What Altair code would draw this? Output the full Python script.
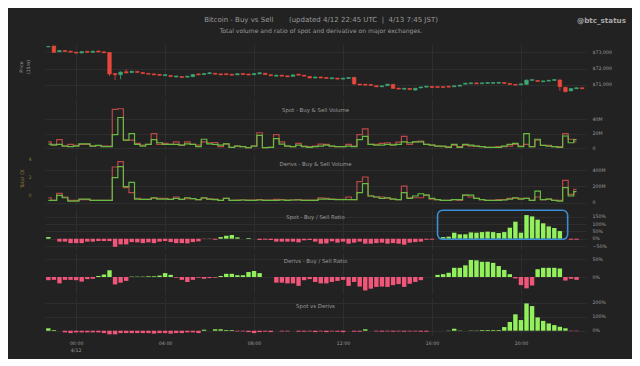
import altair as alt
import pandas as pd

FONT = "DejaVu Sans"
BG = "#222222"
GRID = "#2e2e2e"
TXT = "#9a9a9a"
RED_C, GRN_C = "#e8483c", "#3fa877"
RED_L, GRN_L = "#b84848", "#68bb40"
RED_B, GRN_B = "#f0567a", "#92f05c"
OI_C = "#8a7434"
BOX = "#3a8ed4"

W = 541
H1, H2, H3, H4, H5, H6 = 52, 50, 50, 41, 40, 37

# ---------------- data ----------------
base_t = pd.Timestamp("2024-04-11 22:45", tz="UTC")
times = [int((base_t + pd.Timedelta(minutes=15 * i)).value // 10**6) for i in range(97)]


def ms(s):
    return int(pd.Timestamp(s).value // 10**6)


X_DOM = [ms("2024-04-11T22:36:00Z"), ms("2024-04-12T22:55:30Z")]
tick_times = [ms(f"2024-04-12T{h:02d}:00:00Z") for h in (0, 4, 8, 12, 16, 20)]
date_label = {"t": ms("2024-04-12T00:00:00Z"), "txt": "4/12"}

price_open = [73330, 73385, 73030, 73110, 73070, 73010, 72960, 73060, 73000, 73080, 73030, 72990, 71700, 71630, 71810, 71760, 71830, 71760, 71710, 71680, 71650, 71570, 71580, 71490, 71520, 71480, 71510, 71680, 71640, 71690, 71720, 71680,
              71690, 71660, 71620, 71700, 71670, 71630, 71680, 71720, 71630, 71540, 71600, 71560, 71530, 71660, 71600, 71520, 71430, 71490, 71460, 71380, 71420, 71360, 71400, 71470, 71060, 71050, 71030, 70960, 70890, 70960, 71040, 70810,
              70740, 70790, 70690, 70820, 70870, 70910, 70900, 70900, 70920, 70890, 70930, 71050, 71080, 71130, 71080, 71100, 71100, 71110, 71150, 71090, 71040, 71010, 71040, 71280, 71280, 71200, 71240, 71280, 71310, 70860, 70650, 70770, 70830]
price_close = [73350, 73000, 73110, 73050, 73010, 72950, 73040, 73000, 73070, 73020, 72970, 71670, 71630, 71790, 71740, 71840, 71770, 71700, 71660, 71620, 71590, 71630, 71520, 71550, 71460, 71540, 71640, 71620, 71700, 71750, 71660, 71620,
               71630, 71600, 71690, 71640, 71610, 71700, 71750, 71640, 71570, 71600, 71540, 71500, 71620, 71600, 71540, 71430, 71490, 71430, 71400, 71440, 71360, 71420, 71460, 71060, 71000, 70990, 70970, 70890, 70950, 71050, 70790, 70750,
               70800, 70720, 70800, 70880, 70930, 70850, 70850, 70850, 70870, 70950, 70990, 71110, 71130, 71070, 71130, 71150, 71150, 71160, 71090, 71030, 70990, 71070, 71300, 71330, 71220, 71250, 71290, 71330, 70900, 70590, 70780, 70830, 70770]
price_high = [73360, 73400, 73130, 73120, 73080, 73020, 73060, 73070, 73080, 73090, 73040, 73010, 71720, 71830, 71960, 71860, 71840, 71770, 71720, 71690, 71660, 71650, 71590, 71570, 71530, 71560, 71660, 71690, 71720, 71770, 71730, 71690,
              71700, 71670, 71710, 71710, 71680, 71720, 71770, 71730, 71640, 71620, 71610, 71570, 71640, 71680, 71610, 71530, 71510, 71500, 71470, 71450, 71430, 71430, 71480, 71490, 71070, 71060, 71040, 70970, 70960, 71070, 71060, 70820,
              70810, 70800, 70810, 70890, 70940, 70920, 70910, 70910, 70930, 70960, 71000, 71120, 71140, 71140, 71140, 71160, 71160, 71170, 71160, 71100, 71050, 71080, 71330, 71350, 71290, 71260, 71300, 71340, 71330, 70880, 70790, 70840, 70840]
price_low = [73320, 72960, 73020, 73040, 73000, 72940, 72950, 72990, 72990, 73010, 72960, 71550, 71310, 71350, 71720, 71740, 71760, 71690, 71650, 71610, 71580, 71560, 71510, 71480, 71450, 71470, 71500, 71610, 71630, 71680, 71650, 71610,
             71620, 71590, 71610, 71630, 71600, 71620, 71670, 71630, 71560, 71530, 71530, 71490, 71520, 71590, 71530, 71420, 71420, 71420, 71390, 71370, 71350, 71350, 71390, 71030, 70990, 70980, 70960, 70880, 70880, 70950, 70770, 70740,
             70730, 70710, 70660, 70810, 70860, 70840, 70840, 70840, 70860, 70880, 70920, 71040, 71070, 71060, 71070, 71090, 71090, 71100, 71080, 71020, 70980, 71000, 71020, 71270, 71210, 71190, 71230, 71270, 70640, 70560, 70600, 70760, 70760]

# volumes (millions USD), one value per 15 minutes
spot_sell = [8.9, 5.3, 12.0, 3.1, 5.3, 4.0, 5.3, 5.3, 3.1, 3.6, 3.1, 3.1, 53.3, 54.2, 11.1, 11.1, 6.7, 4.4, 5.3, 20.0, 5.3, 6.7, 5.3, 8.9, 4.4, 8.9, 5.3, 4.4, 8.9, 7.6, 8.0, 2.2, 6.2,
             1.3, 3.1, 2.2, 0.9, 3.1, 21.3, 0.9, 1.3, 18.7, 8.9, 3.1, 2.2, 6.7, 3.1, 2.2, 3.1, 5.8, 5.3, 3.1, 2.2, 2.2, 5.3, 3.1, 18.7, 26.7, 5.3, 5.3, 6.7, 7.6, 5.3, 8.4, 16.4,
             5.3, 8.9, 9.8, 5.3, 4.4, 3.1, 2.2, 2.2, 4.4, 2.2, 4.4, 3.1, 3.1, 2.2, 1.3, 1.3, 2.2, 2.2, 3.1, 5.3, 3.1, 5.3, 2.2, 11.1, 4.0, 4.0, 2.2, 2.2, 20.0, 12.4, 9.0]
spot_buy = [5.8, 4.4, 5.3, 3.1, 2.2, 3.1, 6.2, 6.2, 3.1, 4.0, 2.2, 2.2, 18.7, 42.2, 11.1, 20.0, 5.3, 3.1, 5.3, 12.0, 7.6, 5.3, 5.3, 5.3, 4.4, 6.2, 5.3, 2.2, 12.4, 6.2, 5.3, 4.4, 6.2,
            1.3, 3.1, 2.2, 0.9, 3.1, 17.8, 0.9, 1.3, 13.3, 5.8, 3.1, 2.2, 4.4, 2.2, 1.3, 2.2, 3.1, 4.4, 3.1, 2.2, 2.2, 3.1, 2.2, 12.0, 16.4, 5.3, 4.4, 4.4, 5.3, 4.4, 5.3, 8.9,
            7.6, 8.9, 8.9, 5.3, 4.4, 3.1, 3.1, 1.3, 5.3, 1.3, 5.3, 4.4, 3.1, 2.2, 1.3, 1.3, 1.3, 3.1, 5.3, 6.7, 2.2, 20.0, 2.2, 12.4, 4.0, 3.1, 2.2, 1.3, 16.9, 7.6, 12.0]
deriv_sell = [61, 29, 115, 70, 29, 29, 37, 37, 29, 29, 29, 29, 438, 503, 184, 123, 53, 41, 41, 53, 53, 53, 41, 70, 41, 49, 49, 37, 53, 45, 45, 29, 53,
              29, 33, 33, 33, 33, 37, 33, 33, 41, 37, 33, 33, 37, 33, 33, 33, 61, 53, 45, 41, 41, 70, 37, 258, 315, 82, 70, 70, 53, 45, 37, 204,
              61, 61, 61, 94, 45, 37, 29, 29, 37, 29, 94, 70, 53, 37, 29, 29, 37, 37, 53, 53, 53, 53, 29, 70, 37, 45, 29, 29, 274, 102, 164]
deriv_buy = [29, 29, 90, 61, 20, 20, 45, 45, 29, 29, 29, 29, 307, 442, 196, 249, 45, 41, 41, 61, 45, 45, 41, 53, 41, 61, 49, 37, 61, 45, 37, 29, 53,
             29, 29, 33, 29, 29, 33, 29, 29, 29, 33, 29, 33, 33, 29, 29, 29, 45, 45, 41, 37, 37, 37, 37, 123, 233, 82, 70, 53, 61, 45, 37, 123,
             53, 82, 110, 94, 53, 37, 29, 29, 37, 37, 94, 94, 53, 37, 29, 29, 29, 33, 45, 61, 45, 53, 29, 143, 37, 45, 29, 20, 184, 82, 135]

# ratios (%)
spot_ratio = [11, 0, -20, -20, -30, -30, -30, -20, -20, -16, -16, -16, -55, -39, -39, -23, -25, -30, -25, -30, -20, -16, -23, -30, -30, -32, -23, -18, -2, -2, -7, 11, 20,
              25, 9, 0, 5, 0, -9, -7, -9, -20, -20, -20, -20, -25, -11, -9, -20, -34, -32, -18, -27, -20, -34, -27, -20, -34, -34, -30, -27, -34, -30, -34,
              -41, -27, -23, -20, -7, -7, 0, 11, 14, 41, 30, 30, 43, 41, 45, 48, 45, 39, 45, 75, 116, 41, 161, 152, 130, 105, 84, 73, 52, -2, -7, -7]
deriv_ratio = [-9, -8, -18, -8, -8, -9, -13, -6, -5, 3, 7, 19, -21, -16, -11, 1, 1, 1, 2, 2, 4, 11, 6, -2, -8, -14, -8, -2, -5, -3, -2, 3, 9,
               9, 5, 5, 14, 17, 11, 0, 0, -16, -16, -18, -18, -25, -9, -6, -14, -18, -18, -14, -11, -8, -25, -14, -27, -38, -33, -28, -27, -28, -23, -20,
               -28, -19, -14, -9, 0, 0, 6, 8, 12, 26, 26, 33, 48, 47, 43, 43, 40, 31, 20, 8, -4, -23, -32, -24, 22, 26, 26, 26, 24, -10, -5, -8]
spot_vs_deriv = [17, 5, 0, -12, -17, -12, -12, -12, -12, -12, -17, -26, -26, -17, -17, -17, -17, -17, -17, -21, -17, -17, -21, -17, -17, -12, -12, -17, 7, 0, 10, 10, 5,
                 5, -5, -5, -10, -17, -10, -7, -10, 0, -5, -5, 0, -7, -7, -5, -10, -5, -10, -5, -7, -10, 0, -7, -7, 10, 0, -5, -7, -5, -7,
                 -5, -7, -5, -5, -7, -7, 0, 0, 0, 2, 14, 2, 0, 2, 2, 5, 5, 5, 5, 26, 62, 117, 76, 195, 176, 95, 70, 52, 40, 28, 17, -3, -3]

oi_ticks = [0, 2, 4]
box = {"x1": ms("2024-04-12T16:15:00Z"), "x2": ms("2024-04-12T22:06:00Z"), "y1": -4, "y2": 194}

candles = pd.DataFrame({"t": times, "o": price_open, "h": price_high, "l": price_low, "c": price_close})
vols = pd.DataFrame({"t": times[:96], "ss": spot_sell, "sb": spot_buy, "ds": deriv_sell, "db": deriv_buy})
ratios = pd.DataFrame({"t": times[:96], "sr": spot_ratio, "dr": deriv_ratio, "sd": spot_vs_deriv})

# ---------------- helpers ----------------
XSCALE = alt.Scale(type="utc", domain=X_DOM, padding=0)
LEFT_EXTENT = -30


def x_axis(bottom=False):
    if bottom:
        return alt.Axis(grid=True, gridColor=GRID, ticks=False, domain=False, title=None, values=tick_times,
                        labelColor=TXT, labelFontSize=4.7, labelPadding=5, labelFont=FONT, labelOverlap=False,
                        labelExpr="utcFormat(datum.value, '%H:%M')")
    return alt.Axis(grid=True, gridColor=GRID, ticks=False, domain=False, labels=False, title=None, values=tick_times)


def x_enc(field="t", bottom=False):
    return alt.X(f"{field}:T", scale=XSCALE, axis=x_axis(bottom))


def y_axis(values, expr):
    return alt.Axis(orient="right", values=values, labelExpr=expr, labelColor=TXT, labelFontSize=4.7,
                    labelFont=FONT, labelPadding=6, ticks=False, domain=False, grid=True, gridColor=GRID,
                    title=None, labelOverlap=False, labelBound=False, labelFlush=False)


def text_layer(text, x, y, size, color=TXT, weight="normal", align="center", angle=0):
    kw = dict(color=color, fontSize=size, font=FONT, fontWeight=weight, align=align, baseline="middle", lineBreak="\n")
    if angle:
        kw["angle"] = angle
    return alt.Chart(alt.Data(values=[{"txt": text}])).mark_text(**kw).encode(
        text="txt:N", x=alt.value(x), y=alt.value(y))


def anchor(h):
    return alt.Chart(alt.Data(values=[{"a": 0}])).mark_rule(opacity=0).encode(
        x=alt.value(LEFT_EXTENT), y=alt.value(0), y2=alt.value(h))


PCT = "format(datum.value, 'd') + '%'"
MEG = "datum.value == 0 ? '0' : datum.value + 'M'"

# ---------------- panel 1: price ----------------
pscale = alt.Scale(domain=[70327, 73508])
p_axis = y_axis([71000, 72000, 73000], "'$' + format(datum.value, ',')")
cond_c = alt.condition("datum.c >= datum.o", alt.value(GRN_C), alt.value(RED_C))
cb = alt.Chart(candles).encode(x=x_enc())
wick = cb.mark_rule(strokeWidth=0.8).encode(
    y=alt.Y("l:Q", scale=pscale, axis=p_axis), y2="h:Q", color=cond_c)
body = cb.mark_bar(size=3.6, strokeWidth=0.6).encode(
    y=alt.Y("o:Q", scale=pscale, axis=p_axis), y2="c:Q", color=cond_c, stroke=cond_c)

t1 = "Bitcoin - Buy vs Sell" + "\u00a0" * 7 + "(updated 4/12 22:45 UTC\u00a0 |\u00a0 4/13 7:45 JST)"
t2 = "Total volume and ratio of spot and derivative on major exchanges."
p1 = alt.layer(
    wick, body,
    text_layer(t1, 276, -24, 7),
    text_layer(t2, 276, -13, 6.1),
    text_layer("@btc_status", 581, -23, 7.2, color="#a8a8a8", weight="bold", align="right"),
    text_layer("Price\n(15m)", -23, 23, 4.7, angle=270),
    anchor(H1),
).properties(width=W, height=H1)

# ---------------- panel 2: spot volume ----------------
sv_scale = alt.Scale(domain=[-2.3, 66.2])
sv_axis = y_axis([0, 20, 40], MEG)
vb = alt.Chart(vols).encode(x=x_enc())
p2 = alt.layer(
    vb.mark_line(interpolate="step", color=RED_L, strokeWidth=1.2).encode(
        y=alt.Y("ss:Q", scale=sv_scale, axis=sv_axis)),
    vb.mark_line(interpolate="step", color=GRN_L, strokeWidth=1.2).encode(
        y=alt.Y("sb:Q", scale=sv_scale, axis=sv_axis)),
    text_layer("Spot - Buy & Sell Volume", W / 2, 9.5, 5.4),
    anchor(H2),
).properties(width=W, height=H2)

# ---------------- panel 3: derivs volume ----------------
dv_scale = alt.Scale(domain=[-28.2, 585])
dv_axis = y_axis([0, 200, 400], MEG)
dv_lines = alt.layer(
    vb.mark_line(interpolate="step", color=RED_L, strokeWidth=1.2).encode(
        y=alt.Y("ds:Q", scale=dv_scale, axis=dv_axis)),
    vb.mark_line(interpolate="step", color=GRN_L, strokeWidth=1.2).encode(
        y=alt.Y("db:Q", scale=dv_scale, axis=dv_axis)),
)
oi_layer = alt.Chart(pd.DataFrame({"v": oi_ticks})).mark_point(opacity=0).encode(
    x=alt.value(0),
    y=alt.Y("v:Q", scale=alt.Scale(domain=[-1.12, 4.49]),
            axis=alt.Axis(orient="left", values=oi_ticks, labelColor=OI_C, labelFontSize=4.7, labelFont=FONT,
                          labelPadding=14, ticks=False, domain=False, grid=False, title=None,
                          labelOverlap=False, labelBound=False, labelFlush=False)))
p3 = alt.layer(
    dv_lines, oi_layer,
    text_layer("Derivs - Buy & Sell Volume", W / 2, 8.7, 5.4),
    text_layer("Total OI", -23, 24, 5, color=OI_C, angle=270),
    anchor(H3),
).resolve_scale(y="independent").properties(width=W, height=H3)


# ---------------- ratio panels ----------------
def ratio_bars(field, scale, axis, bottom=False):
    return alt.Chart(ratios).transform_calculate(zero="0").mark_bar(size=4.4).encode(
        x=x_enc(bottom=bottom),
        y=alt.Y(f"{field}:Q", scale=scale, axis=axis),
        y2="zero:Q",
        color=alt.condition(f"datum.{field} >= 0", alt.value(GRN_B), alt.value(RED_B)))


sr_scale = alt.Scale(domain=[-77, 202.5])
sr_axis = y_axis([-50, 0, 50, 100, 150], PCT)
box_layer = alt.Chart(alt.Data(values=[box])).mark_rect(
    fillOpacity=0, stroke=BOX, strokeWidth=1.6, cornerRadius=5).encode(
    x=x_enc("x1"), x2="x2:T", y=alt.Y("y1:Q", scale=sr_scale, axis=sr_axis), y2="y2:Q")
p4 = alt.layer(
    ratio_bars("sr", sr_scale, sr_axis),
    box_layer,
    text_layer("Spot - Buy / Sell Ratio", W / 2, 7.5, 5.4),
    anchor(H4),
).properties(width=W, height=H4)

dr_scale = alt.Scale(domain=[-48, 65])
p5 = alt.layer(
    ratio_bars("dr", dr_scale, y_axis([0, 50], PCT)),
    text_layer("Derivs - Buy / Sell Ratio", W / 2, 7.3, 5.4),
    anchor(H5),
).properties(width=W, height=H5)

sd_scale = alt.Scale(domain=[-30.7, 233.6])
date_layer = alt.Chart(alt.Data(values=[date_label])).mark_text(
    color=TXT, fontSize=4.7, font=FONT, baseline="middle").encode(
    x=x_enc(bottom=True), text="txt:N", y=alt.value(H6 + 16))
p6 = alt.layer(
    ratio_bars("sd", sd_scale, y_axis([0, 100, 200], PCT), bottom=True),
    text_layer("Spot vs Derivs", W / 2, 7.7, 5.4),
    date_layer,
    anchor(H6),
).properties(width=W, height=H6)

chart = alt.vconcat(p1, p2, p3, p4, p5, p6, spacing=4).properties(
    background=BG,
    padding={"left": 7, "top": 8, "right": 6, "bottom": 6},
).configure_view(strokeWidth=0)

chart.save("out.html", embed_options={"renderer": "svg", "actions": False})
